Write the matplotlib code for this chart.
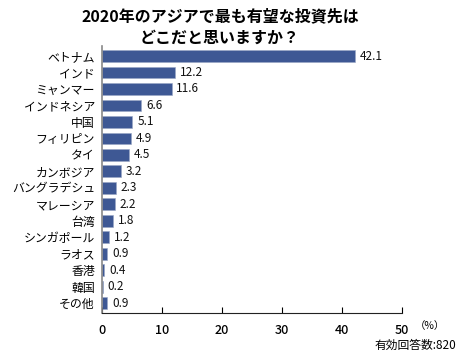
import matplotlib
matplotlib.use("Agg")
import matplotlib.pyplot as plt

plt.rcParams['font.family'] = ['Noto Sans CJK JP', 'DejaVu Sans']

countries = ["ベトナム", "インド", "ミャンマー", "インドネシア", "中国", "フィリピン", "タイ",
             "カンボジア", "バングラデシュ", "マレーシア", "台湾", "シンガポール", "ラオス",
             "香港", "韓国", "その他"]
values = [42.1, 12.2, 11.6, 6.6, 5.1, 4.9, 4.5, 3.2, 2.3, 2.2, 1.8, 1.2, 0.9, 0.4, 0.2, 0.9]
xticks = [0, 10, 20, 30, 40, 50]

fig = plt.figure(figsize=(4.65, 3.55), dpi=100)
ax = fig.add_axes([0.219, 0.118, 0.646, 0.752])

y = list(range(len(countries)))
ax.barh(y, values, height=0.72, color="#3e5894", edgecolor="#9aa6c4", linewidth=0.4)
for yi, v in zip(y, values):
    ax.text(v + 0.8, yi, f"{v}", va="center", ha="left", fontsize=8.5, color="#111111")

ax.set_ylim(15.6, -0.6)
ax.set_xlim(0, 50)
ax.set_yticks(y)
ax.set_yticklabels(countries, fontsize=8.6)
ax.set_xticks(xticks)
ax.set_xticklabels([str(t) for t in xticks], fontsize=9, fontweight="medium")
ax.tick_params(axis='y', length=0, pad=5)
ax.tick_params(axis='x', direction='in', length=4, width=0.8, pad=8)
for s in ['top', 'right']:
    ax.spines[s].set_visible(False)
ax.spines['left'].set_color('#888888')
ax.spines['left'].set_linewidth(1.2)
ax.spines['bottom'].set_color('#222222')
ax.spines['bottom'].set_linewidth(0.8)

fig.text(0.473, 0.955, "2020年のアジアで最も有望な投資先は", ha="center", va="center",
         fontsize=11.5, fontweight="bold")
fig.text(0.473, 0.895, "どこだと思いますか？", ha="center", va="center",
         fontsize=11.5, fontweight="bold")
fig.text(0.893, 0.083, "（%）", ha="left", va="center", fontsize=7.5)
fig.text(0.982, 0.028, "有効回答数:820", ha="right", va="center", fontsize=8.5)

fig.savefig("out.png", dpi=100)
